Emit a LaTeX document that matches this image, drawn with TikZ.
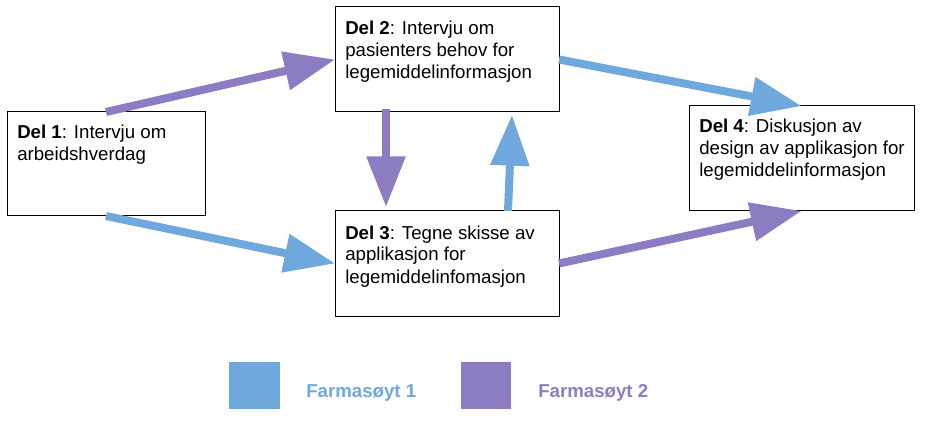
\documentclass[tikz,border=0pt]{standalone}
\usepackage{fontspec}
\setmainfont{Liberation Sans}
\usetikzlibrary{arrows.meta}
\definecolor{fblue}{HTML}{6FA8DC}
\definecolor{fpurple}{HTML}{8E7CC3}
\tikzset{
  box/.style={draw=black, line width=0.75pt, inner sep=0pt, outer sep=0pt},
  boxtext/.style={anchor=base west, inner sep=0pt, font=\fontsize{14pt}{16.5pt}\selectfont},
  fat/.style={line width=6pt, -{Triangle[length=38pt,width=28pt]}},
  bluearrow/.style={fat, draw=fblue, color=fblue},
  purplearrow/.style={fat, draw=fpurple, color=fpurple},
  legtext/.style={anchor=base west, inner sep=0pt, font=\fontsize{14pt}{16.5pt}\selectfont\bfseries}
}
\begin{document}
\begin{tikzpicture}[x=0.75pt,y=-0.75pt]
\useasboundingbox (0,0) rectangle (925,424);
% boxes
\node[box, minimum width=148.5pt, minimum height=78pt] (b1) at (106,164) {};
\node[box, minimum width=168pt, minimum height=78.75pt] (b2) at (447,59.5) {};
\node[box, minimum width=168pt, minimum height=78.75pt] (b3) at (447,263.5) {};
\node[box, minimum width=168.75pt, minimum height=78.75pt] (b4) at (801.5,158.5) {};
% texts
\node[boxtext] (t1) at ([shift={(10,27)}]b1.north west) {\parbox[t]{180pt}{\textbf{Del 1}: Intervju om\\arbeidshverdag}};
\node[boxtext] (t2) at ([shift={(10,28)}]b2.north west) {\parbox[t]{180pt}{\textbf{Del 2}: Intervju om\\pasienters behov for\\legemiddelinformasjon}};
\node[boxtext] (t3) at ([shift={(10,28)}]b3.north west) {\parbox[t]{180pt}{\textbf{Del 3}: Tegne skisse av\\applikasjon for\\legemiddelinfomasjon}};
\node[boxtext] (t4) at ([shift={(10,27)}]b4.north west) {\parbox[t]{180pt}{\textbf{Del 4}: Diskusjon av\\design av applikasjon for\\legemiddelinformasjon}};
% arrows
\draw[purplearrow] (b1.north) -- (b2.west);
\draw[bluearrow] (b1.south) -- (b3.west);
\draw[purplearrow] ([shift={(51,-3)}]b2.south west) -- ([shift={(51,-4)}]b3.north west);
\draw[bluearrow] ([shift={(173,0)}]b3.north west) -- ([shift={(177,3)}]b2.south west);
\draw[bluearrow] (b2.east) -- (b4.north);
\draw[purplearrow] (b3.east) -- (b4.south);
% legend
\node[fill=fblue, inner sep=0pt, minimum width=38.25pt, minimum height=35.25pt] (l1) at (254.5,385.5) {};
\node[fill=fpurple, inner sep=0pt, minimum width=37.5pt, minimum height=35.25pt] (l2) at (486,385.5) {};
\node[legtext, text=fblue] (lt1) at (306,397) {Farmasøyt 1};
\node[legtext, text=fpurple] (lt2) at (538,397) {Farmasøyt 2};
\end{tikzpicture}
\end{document}
